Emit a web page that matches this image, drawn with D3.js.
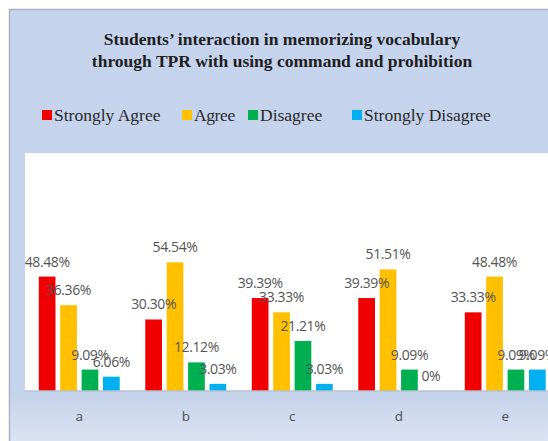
<!DOCTYPE html>
<html>
<head>
<meta charset="utf-8">
<script src="https://cdn.jsdelivr.net/npm/d3@7"></script>
<style>
  html, body { margin: 0; padding: 0; background: #ffffff; }
  svg { display: block; }
</style>
</head>
<body>
<div id="chart"></div>
<script>
// data
var categories = ['a', 'b', 'c', 'd', 'e'];
var seriesNames = ['Strongly Agree', 'Agree', 'Disagree', 'Strongly Disagree'];
var stronglyAgree = [48.48, 30.30, 39.39, 39.39, 33.33];
var agree = [36.36, 54.54, 33.33, 51.51, 48.48];
var disagree = [9.09, 12.12, 21.21, 9.09, 9.09];
var stronglyDisagree = [6.06, 3.03, 3.03, 0, 9.09];
var titleLines = ['Students\u2019 interaction in memorizing  vocabulary', 'through  TPR with  using command  and  prohibition'];

var colors = ['#f00000', '#ffc000', '#00b050', '#00b0f0'];
var series = [stronglyAgree, agree, disagree, stronglyDisagree];

(function () {
  var width = 548, height = 441;
  var svg, x, x1, y;

  // plot box (the right end runs past the window, like the reference)
  var plot = { left: 25, top: 153, right: 560, bottom: 391 };

  build();

  // **********   Build   ********** //
  function build() {
    svg = d3.select('#chart').append('svg')
      .attr('width', width)
      .attr('height', height);

    var defs = svg.append('defs');
    var grad = defs.append('linearGradient')
      .attr('id', 'bottomFade')
      .attr('x1', 0).attr('y1', 0).attr('x2', 0).attr('y2', 1);
    grad.append('stop').attr('offset', '0%').attr('stop-color', '#c3d1ea');
    grad.append('stop').attr('offset', '100%').attr('stop-color', '#dbe3f2');

    // panel
    svg.append('rect')
      .attr('x', 9.5).attr('y', 9.5)
      .attr('width', width).attr('height', height)
      .attr('fill', '#c5d3ec')
      .attr('stroke', '#a9b2c0')
      .attr('stroke-width', 1.5);

    svg.append('rect')
      .attr('x', 10.5).attr('y', plot.bottom)
      .attr('width', width).attr('height', height - plot.bottom)
      .attr('fill', 'url(#bottomFade)');

    // plot area
    svg.append('rect')
      .attr('x', plot.left).attr('y', plot.top)
      .attr('width', plot.right - plot.left).attr('height', plot.bottom - plot.top)
      .attr('fill', '#ffffff');

    // title
    var title = svg.append('text')
      .attr('text-anchor', 'middle')
      .attr('font-family', '"Liberation Serif", "DejaVu Serif", serif')
      .attr('font-weight', 'bold')
      .attr('font-size', 17.5)
      .attr('fill', '#1e1e1e');
    titleLines.forEach(function (t, i) {
      title.append('tspan')
        .attr('x', 282)
        .attr('y', 45 + i * 22)
        .text(t);
    });

    // legend
    var legendX = [42, 182, 248, 352];
    var legend = svg.append('g')
      .attr('font-family', '"Liberation Serif", "DejaVu Serif", serif')
      .attr('font-size', 17.5)
      .attr('fill', '#2a2a2a');
    seriesNames.forEach(function (name, i) {
      legend.append('rect')
        .attr('x', legendX[i]).attr('y', 110)
        .attr('width', 10).attr('height', 10)
        .attr('fill', colors[i]);
      legend.append('text')
        .attr('x', legendX[i] + 12)
        .attr('y', 121)
        .attr('letter-spacing', i === 1 ? -0.4 : 0)
        .text(name);
    });

    // scales
    x = d3.scaleBand()
      .domain(categories)
      .range([plot.left + 1, plot.left + 1 + 106.5 * categories.length])
      .paddingInner(0.24)
      .paddingOuter(0.12);
    x1 = d3.scaleBand()
      .domain(d3.range(seriesNames.length))
      .range([0, x.bandwidth()])
      .paddingInner(0.22);
    y = d3.scaleLinear()
      .domain([0, 100])
      .range([plot.bottom, plot.bottom - 236]);

    // bars
    var groups = svg.append('g')
      .selectAll('g')
      .data(categories)
      .join('g')
      .attr('transform', function (d) { return 'translate(' + x(d) + ',0)'; });

    groups.selectAll('rect')
      .data(function (d, ci) {
        return series.map(function (s, si) { return { si: si, v: s[ci] }; });
      })
      .join('rect')
      .attr('x', function (d) { return x1(d.si); })
      .attr('y', function (d) { return y(d.v); })
      .attr('width', x1.bandwidth())
      .attr('height', function (d) { return y(0) - y(d.v); })
      .attr('fill', function (d) { return colors[d.si]; });

    // axis
    var axis = svg.append('g')
      .attr('transform', 'translate(0,' + plot.bottom + ')')
      .call(d3.axisBottom(x).tickSize(0).tickPadding(20));
    axis.select('.domain')
      .attr('stroke', '#b9c2cf')
      .attr('stroke-width', 1.5)
      .attr('d', 'M' + plot.left + ',0H' + plot.right);
    axis.selectAll('text')
      .attr('font-family', '"Open Sans", "Noto Sans", sans-serif')
      .attr('font-size', 13.5)
      .attr('fill', '#505050');

    // data labels
    groups.selectAll('text')
      .data(function (d, ci) {
        return series.map(function (s, si) { return { si: si, v: s[ci] }; });
      })
      .join('text')
      .attr('x', function (d) { return x1(d.si) + x1.bandwidth() / 2; })
      .attr('y', function (d) { return y(d.v) - 10; })
      .attr('text-anchor', 'middle')
      .attr('font-family', '"Open Sans", "Noto Sans", sans-serif')
      .attr('font-size', 14)
      .attr('letter-spacing', -0.4)
      .attr('fill', '#555555')
      .text(function (d) { return d.v === 0 ? '0%' : d.v.toFixed(2) + '%'; });
  }
})();
</script>
</body>
</html>
